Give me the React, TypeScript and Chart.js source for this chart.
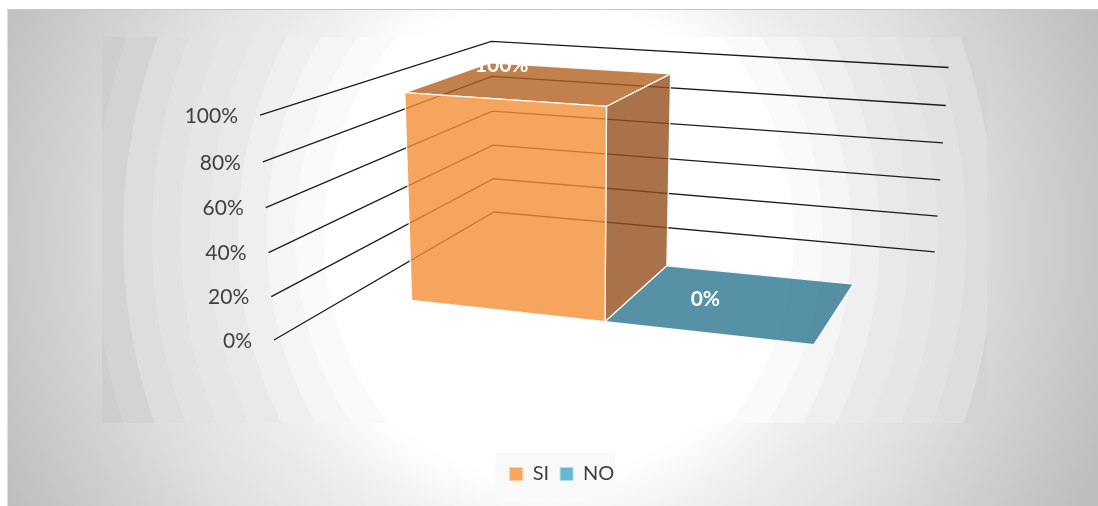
import { useEffect, useRef } from "react";
import { Chart, registerables } from "chart.js";

Chart.register(...registerables);

const categories = ["Respuesta"];
const seriesNames = ["SI", "NO"];
const siValues = [100];
const noValues = [0];
const legendColors = ["#F8A55E", "#66B8D2"];

// Translucent face shades for each series: front, side, top.
const faceColors = [
  { front: "rgba(243,143,54,0.8)", side: "rgba(147,79,29,0.8)", top: "rgba(179,96,31,0.8)" },
  { front: "rgba(44,117,144,0.8)", side: "rgba(30,90,110,0.8)", top: "rgba(44,117,144,0.8)" },
];

// Grey levels of the panel gradient as radius/level pairs, and of the stepped rings.
const panelStops: [number, number][] = [
  [235, 255],
  [248, 253],
  [298, 240],
  [329, 235],
  [409, 224],
  [447, 217],
  [475, 211],
  [595, 190],
];
const ringShades = [255, 250, 245, 239, 233, 230, 226, 221, 211, 206, 201, 196];

// Perspective camera: each axis holds its screen-space x, y and homogeneous weight.
const camera = {
  origin: [274, 340],
  x: [489.6, 26.5, -0.1069],
  y: [-25.7, -230, -0.045],
  z: [386.7, -56.5, 0.3374],
};
const barDepth = [0.295, 0.695];
const labelLift = 34;
const font = "Lato, 'Open Sans', sans-serif";

function project(u: number, v: number, d: number): [number, number] {
  const w = 1 + camera.x[2] * u + camera.y[2] * v + camera.z[2] * d;
  return [
    (camera.origin[0] + camera.x[0] * u + camera.y[0] * v + camera.z[0] * d) / w,
    (camera.origin[1] + camera.x[1] * u + camera.y[1] * v + camera.z[1] * d) / w,
  ];
}

function polygon(ctx: CanvasRenderingContext2D, pts: [number, number][]) {
  ctx.beginPath();
  pts.forEach((p, i) => (i ? ctx.lineTo(p[0], p[1]) : ctx.moveTo(p[0], p[1])));
  ctx.closePath();
}

const backdrop = {
  id: "backdrop",
  beforeDraw(chart: any) {
    const { ctx, width, height } = chart;
    ctx.save();
    ctx.fillStyle = "#fff";
    ctx.fillRect(0, 0, width, height);

    // Soft radial gradient over the whole panel
    ctx.beginPath();
    ctx.rect(7.5, 9.5, width, height);
    ctx.clip();
    const inner = panelStops[0][0];
    const outer = panelStops[panelStops.length - 1][0];
    const g = ctx.createRadialGradient(545, 240, inner, 545, 240, outer);
    panelStops.forEach(([r, level]) => {
      g.addColorStop((r - inner) / (outer - inner), `rgb(${level},${level},${level})`);
    });
    ctx.fillStyle = g;
    ctx.fillRect(0, 0, width, height);

    // Stepped rings across the plot rectangle
    ctx.save();
    ctx.beginPath();
    ctx.rect(102, 37, 885, 386);
    ctx.clip();
    ctx.translate(559, 235);
    ctx.scale(1, 1.16);
    for (let i = ringShades.length - 1; i >= 0; i--) {
      const r = 235 + 28.7 * i;
      const shade = ringShades[i];
      ctx.fillStyle = `rgb(${shade},${shade},${shade})`;
      ctx.beginPath();
      ctx.arc(0, 0, r, 0, Math.PI * 2);
      ctx.fill();
    }
    ctx.restore();
    ctx.restore();

    ctx.save();
    ctx.strokeStyle = "#c8c8c8";
    ctx.lineWidth = 1;
    ctx.beginPath();
    ctx.moveTo(7, 9.5);
    ctx.lineTo(width, 9.5);
    ctx.stroke();

    // Legend plate
    const boxes = chart.legend.legendHitBoxes as any[];
    if (boxes.length) {
      const left = Math.min(...boxes.map((b) => b.left)) - 14;
      const right = Math.max(...boxes.map((b) => b.left + b.width)) + 1;
      const mid = boxes[0].top + boxes[0].height / 2;
      ctx.fillStyle = "rgba(248,248,248,0.9)";
      ctx.fillRect(left, mid - 21.5, right - left, 45);
    }
    ctx.restore();
  },
};

const perspectiveBars = {
  id: "perspectiveBars",
  beforeDatasetsDraw(chart: any) {
    const { ctx, chartArea: area, scales } = chart;
    const toV = (px: number) => (area.bottom - px) / area.height;
    const toU = (px: number) => (px - area.left) / area.width;

    // Gridlines and slanted value labels
    ctx.save();
    ctx.font = `21px ${font}`;
    ctx.textAlign = "right";
    ctx.textBaseline = "middle";
    scales.y.ticks.forEach((tick: any) => {
      const v = toV(scales.y.getPixelForValue(tick.value));
      const a = project(0, v, 0);
      const b = project(0, v, 1);
      const c = project(1, v, 1);
      ctx.strokeStyle = "#1c1c1c";
      ctx.lineWidth = 1.3;
      ctx.beginPath();
      ctx.moveTo(a[0], a[1]);
      ctx.lineTo(b[0], b[1]);
      ctx.lineTo(c[0], c[1]);
      ctx.stroke();
      ctx.fillStyle = "#404040";
      ctx.fillText(tick.label, a[0] - 22, a[1] + 1);
    });

    // Bars come from the controller's own elements, then go through the camera
    chart.data.datasets.forEach((_: any, di: number) => {
      chart.getDatasetMeta(di).data.forEach((bar: any) => {
        const u0 = toU(bar.x - bar.width / 2);
        const u1 = toU(bar.x + bar.width / 2);
        const v0 = toV(bar.base);
        const v1 = toV(bar.y);
        const [d0, d1] = barDepth;
        const colors = faceColors[di];
        ctx.lineWidth = 1.3;
        ctx.strokeStyle = "rgba(255,255,255,0.9)";
        ctx.lineJoin = "round";
        polygon(ctx, [project(u0, v1, d0), project(u1, v1, d0), project(u1, v1, d1), project(u0, v1, d1)]);
        ctx.fillStyle = colors.top;
        ctx.fill();
        ctx.stroke();
        if (v1 > v0) {
          polygon(ctx, [project(u1, v0, d0), project(u1, v0, d1), project(u1, v1, d1), project(u1, v1, d0)]);
          ctx.fillStyle = colors.side;
          ctx.fill();
          ctx.stroke();
          polygon(ctx, [project(u0, v0, d0), project(u1, v0, d0), project(u1, v1, d0), project(u0, v1, d0)]);
          ctx.fillStyle = colors.front;
          ctx.fill();
          ctx.stroke();
        }
      });
    });

    // Value labels
    ctx.font = `bold 21px ${font}`;
    ctx.textAlign = "center";
    ctx.textBaseline = "middle";
    ctx.fillStyle = "#ffffff";
    chart.data.datasets.forEach((ds: any, di: number) => {
      chart.getDatasetMeta(di).data.forEach((bar: any, i: number) => {
        const p = project(toU(bar.x), toV(bar.y), barDepth[0]);
        ctx.fillText(`${ds.data[i]}%`, p[0] - 2, p[1] - labelLift);
      });
    });
    ctx.restore();
    return false;
  },
};

export default function App() {
  const ref = useRef<HTMLCanvasElement>(null);
  useEffect(() => {
    const chart = new Chart(ref.current!, {
      type: "bar",
      data: {
        labels: categories,
        datasets: [
          { label: seriesNames[0], data: siValues, backgroundColor: legendColors[0], borderColor: "#FBD0A8", borderWidth: 1 },
          { label: seriesNames[1], data: noValues, backgroundColor: legendColors[1], borderColor: "#B5DDE9", borderWidth: 1 },
        ],
      },
      options: {
        responsive: false,
        animation: false,
        events: [],
        layout: { padding: { left: 26, bottom: 12 } },
        datasets: { bar: { categoryPercentage: 0.758, barPercentage: 1 } },
        scales: {
          x: { display: false },
          y: {
            display: false,
            min: 0,
            max: 100,
            ticks: { stepSize: 20, callback: (v: any) => `${v}%` },
          },
        },
        plugins: {
          tooltip: { enabled: false },
          title: { display: false },
          legend: {
            position: "bottom",
            onClick: () => {},
            labels: {
              boxWidth: 13,
              boxHeight: 13,
              padding: 11,
              color: "#404040",
              font: { family: font, size: 20 },
            },
          },
        },
      },
      plugins: [backdrop, perspectiveBars],
    } as any);
    return () => chart.destroy();
  }, []);
  return (
    <div style={{ position: "fixed", left: 0, top: 0, width: 1098, height: 506 }}>
      <canvas ref={ref} width={1098} height={506} style={{ display: "block" }} />
    </div>
  );
}
